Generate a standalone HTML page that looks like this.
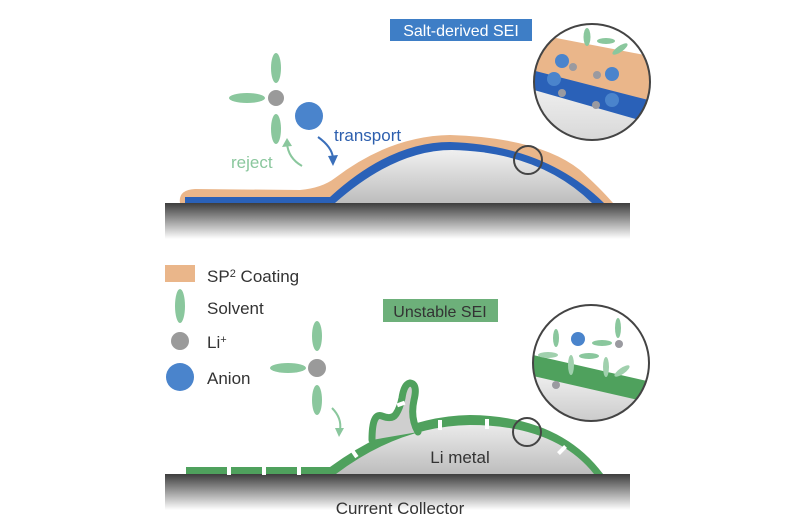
<!DOCTYPE html>
<html><head><meta charset="utf-8"><style>
html,body{margin:0;padding:0;background:#fff;}
svg{display:block;font-family:"Liberation Sans",sans-serif;}
</style></head><body>
<svg width="800" height="530" viewBox="0 0 800 530" xmlns="http://www.w3.org/2000/svg">
<defs>
<linearGradient id="cc" x1="0" y1="0" x2="0" y2="1">
<stop offset="0" stop-color="#3d3d3d"/><stop offset="0.15" stop-color="#5a5a5a"/><stop offset="1" stop-color="#ffffff"/>
</linearGradient>
<linearGradient id="li" x1="0" y1="0" x2="0" y2="1">
<stop offset="0" stop-color="#f0f0f0"/><stop offset="1" stop-color="#bdbdbd"/>
</linearGradient>
<clipPath id="c1"><circle cx="592" cy="82" r="58"/></clipPath>
<clipPath id="c2"><circle cx="591" cy="363" r="58"/></clipPath>
</defs>

<!-- TOP PANEL -->
<rect x="165" y="203" width="465" height="36" fill="url(#cc)"/>
<!-- orange coating -->
<path d="M180 203 Q178 190 195 189 L300 190 Q322 188 335 178 Q390 136 450 135 Q540 138 580 170 Q600 188 613 203 Z" fill="#eab68a"/>
<!-- blue layer -->
<path d="M185 203 L185 197 L330 197 Q390 142 450 142 Q545 145 604 203 Z" fill="#2a61b8"/>
<!-- li metal -->
<path d="M335 203 Q395 150 452 150 Q540 152 592 203 Z" fill="url(#li)"/>
<circle cx="528" cy="160" r="14" fill="none" stroke="#444" stroke-width="2"/>

<!-- zoom circle top -->
<g clip-path="url(#c1)">
<rect x="530" y="20" width="130" height="125" fill="#fff"/>
<path d="M520 31 L660 58 L660 200 L520 200Z" fill="#eab68a"/>
<path d="M520 67 L660 103 L660 200 L520 200Z" fill="#2a61b8"/>
<path d="M520 86 L660 126 L660 200 L520 200Z" fill="url(#li)"/>
<ellipse cx="587" cy="37" rx="3.5" ry="9" fill="#8ac79d"/>
<ellipse cx="606" cy="41" rx="9" ry="3" fill="#8ac79d"/>
<ellipse cx="620" cy="49" rx="9" ry="3" transform="rotate(-35 620 49)" fill="#8ac79d"/>
<circle cx="562" cy="61" r="7" fill="#4a84cc"/>
<circle cx="573" cy="67" r="4" fill="#9a9aa0"/>
<circle cx="597" cy="75" r="4" fill="#9a9aa0"/>
<circle cx="612" cy="74" r="7" fill="#4a84cc"/>
<circle cx="554" cy="79" r="7" fill="#4a84cc"/>
<circle cx="562" cy="93" r="4" fill="#9a9aa0"/>
<circle cx="596" cy="105" r="4" fill="#9a9aa0"/>
<circle cx="612" cy="100" r="7" fill="#4a84cc"/>
</g>
<circle cx="592" cy="82" r="58" fill="none" stroke="#444" stroke-width="2"/>

<rect x="390" y="19" width="142" height="22" fill="#3e7ec6"/>
<text x="461" y="36" font-size="16" fill="#fff" text-anchor="middle">Salt-derived SEI</text>

<!-- top molecule -->
<ellipse cx="276" cy="68" rx="5" ry="15" fill="#8ac79d"/>
<ellipse cx="247" cy="98" rx="18" ry="5" fill="#8ac79d"/>
<ellipse cx="276" cy="129" rx="5" ry="15" fill="#8ac79d"/>
<circle cx="276" cy="98" r="8" fill="#9a9a9a"/>
<circle cx="309" cy="116" r="14" fill="#4a84cc"/>
<path d="M302 166 Q288 158 287 143" fill="none" stroke="#8ac79d" stroke-width="2"/>
<path d="M282 147 L287 138 L292 146Z" fill="#8ac79d"/>
<path d="M318 137 Q332 147 333 158" fill="none" stroke="#3a6fba" stroke-width="2"/>
<path d="M328 156 L333 166 L338 155Z" fill="#3a6fba"/>
<text x="231" y="168" font-size="17" fill="#8ac79d">reject</text>
<text x="334" y="141" font-size="17" fill="#2d5fae">transport</text>

<!-- LEGEND -->
<rect x="165" y="265" width="30" height="17" fill="#eab68a"/>
<text x="207" y="282" font-size="17" fill="#333">SP<tspan font-size="11" dy="-5">2</tspan><tspan dy="5"> Coating</tspan></text>
<ellipse cx="180" cy="306" rx="5" ry="17" fill="#8ac79d"/>
<text x="207" y="314" font-size="17" fill="#333">Solvent</text>
<circle cx="180" cy="341" r="9" fill="#9a9a9a"/>
<text x="207" y="348" font-size="17" fill="#333">Li<tspan font-size="11" dy="-5">+</tspan></text>
<circle cx="180" cy="377" r="14" fill="#4a84cc"/>
<text x="207" y="384" font-size="17" fill="#333">Anion</text>

<!-- BOTTOM PANEL -->
<rect x="165" y="474" width="465" height="36" fill="url(#cc)"/>
<path d="M330 474 Q400 420 470 419 Q560 420 603 474 Z" fill="url(#li)"/>
<path d="M186 474 L186 467 L330 467 Q400 416 470 415 Q560 416 603 474 L594 474 Q555 425 470 425 Q400 426 336 474Z" fill="#4fa15d"/>
<!-- dendrite -->
<path d="M372 440 Q372 412 382 416 Q392 420 396 414 Q400 408 402 398 Q404 384 410 383 Q418 384 414 400 Q410 418 418 432" fill="#cfcfcf" stroke="#4fa15d" stroke-width="7" stroke-linecap="round" stroke-linejoin="round"/>
<!-- gaps -->
<g fill="#fff">
<rect x="227" y="466" width="4" height="9"/><rect x="262" y="466" width="4" height="9"/><rect x="297" y="466" width="4" height="9"/>
<rect x="352" y="448" width="4" height="10" transform="rotate(-35 354 453)"/>
<rect x="438" y="420" width="4" height="10"/>
<rect x="485" y="419" width="4" height="10"/>
<rect x="560" y="445" width="4" height="10" transform="rotate(45 562 450)"/>
<rect x="399" y="400" width="4" height="8" transform="rotate(70 401 404)"/>
</g>
<circle cx="527" cy="432" r="14" fill="none" stroke="#444" stroke-width="2"/>

<!-- zoom circle bottom -->
<g clip-path="url(#c2)">
<rect x="530" y="300" width="130" height="130" fill="#fff"/>
<path d="M520 352 L660 384 L660 440 L520 440Z" fill="#4fa15d"/>
<path d="M520 373 L660 405 L660 440 L520 440Z" fill="url(#li)"/>
<ellipse cx="556" cy="338" rx="3" ry="9" fill="#8ac79d"/>
<circle cx="578" cy="339" r="7" fill="#4a84cc"/>
<ellipse cx="602" cy="343" rx="10" ry="3" fill="#8ac79d"/>
<ellipse cx="618" cy="328" rx="3" ry="10" fill="#8ac79d"/>
<circle cx="619" cy="344" r="4" fill="#9a9aa0"/>
<ellipse cx="548" cy="355" rx="10" ry="3" fill="#a0d0ad"/>
<ellipse cx="589" cy="356" rx="10" ry="3" fill="#8ac79d"/>
<ellipse cx="571" cy="365" rx="3" ry="10" fill="#a0d0ad"/>
<ellipse cx="606" cy="367" rx="3" ry="10" fill="#a0d0ad"/>
<ellipse cx="622" cy="371" rx="9" ry="3" transform="rotate(-35 622 371)" fill="#a0d0ad"/>
<circle cx="556" cy="385" r="4" fill="#9a9aa0"/>
</g>
<circle cx="591" cy="363" r="58" fill="none" stroke="#444" stroke-width="2"/>

<rect x="383" y="299" width="115" height="23" fill="#6db07a"/>
<text x="440" y="317" font-size="16" fill="#333" text-anchor="middle">Unstable SEI</text>

<!-- bottom molecule -->
<ellipse cx="317" cy="336" rx="5" ry="15" fill="#8ac79d"/>
<ellipse cx="288" cy="368" rx="18" ry="5" fill="#8ac79d"/>
<ellipse cx="317" cy="400" rx="5" ry="15" fill="#8ac79d"/>
<circle cx="317" cy="368" r="9" fill="#9a9a9a"/>
<path d="M332 408 Q342 418 340 430" fill="none" stroke="#8ac79d" stroke-width="2"/>
<path d="M335 428 L339 437 L344 428Z" fill="#8ac79d"/>

<text x="460" y="463" font-size="17" fill="#333" text-anchor="middle">Li metal</text>
<text x="400" y="514" font-size="17" fill="#333" text-anchor="middle">Current Collector</text>
</svg>
</body></html>
